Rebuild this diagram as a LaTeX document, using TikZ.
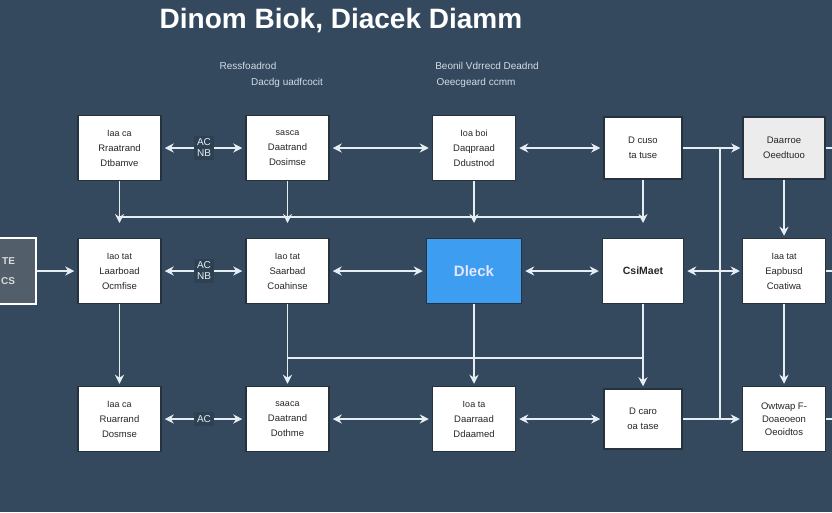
\documentclass[tikz,border=0pt]{standalone}
\usepackage{fontspec}
\setmainfont{Liberation Sans}
\usepackage{tikz}
\usetikzlibrary{arrows.meta}
\definecolor{bgslate}{HTML}{34495E}
\definecolor{boxedge}{HTML}{26333F}
\definecolor{wirecol}{HTML}{E6EEF4}
\definecolor{lblbg}{HTML}{2E4152}
\definecolor{keyblue}{HTML}{3D9DF0}
\definecolor{softgray}{HTML}{ECECEC}
\definecolor{subtext}{HTML}{D4DCE4}
\definecolor{sidegray}{HTML}{525E69}

\begin{document}
\begin{tikzpicture}[x=1pt,y=-1pt,>={Stealth[length=9pt,width=9pt]},
    blk/.style={rectangle,fill=white,draw=boxedge,line width=1.5pt,minimum width=83pt,minimum height=65pt,
                align=center,text=black!85,font=\fontsize{9.5}{15}\selectfont},
    lbl/.style={rectangle,fill=lblbg,inner sep=3pt,align=center,text=wirecol,font=\fontsize{10}{11}\selectfont},
    wire/.style={draw=wirecol,line width=1.1pt}]
     \clip (0,0) rectangle (832,512);                                                      % page size
     \fill [bgslate] (0,0) rectangle (832,512);                                            % background
     \node [text=white,font=\bfseries\fontsize{28}{28}\selectfont] (title) at (341,21) {Dinom Biok, Diacek Diamm};
     \node [text=subtext,font=\fontsize{10}{10}\selectfont] (sub1) at (248,66) {Ressfoadrod};
     \node [text=subtext,font=\fontsize{10}{10}\selectfont] (sub2) at (287,83) {Dacdg uadfcocit};
     \node [text=subtext,font=\fontsize{10}{10}\selectfont] (sub3) at (487,66) {Beonil Vdrrecd Deadnd};
     \node [text=subtext,font=\fontsize{10}{10}\selectfont] (sub4) at (476,83) {Oeecgeard ccmm};

     % top row
     \node [blk] (b11) at (119.5,148) {{\small Iaa ca}\\Rraatrand\\Dtbamve};
     \node [blk] (b12) at (287.5,148) {{\small sasca}\\Daatrand\\Dosimse};
     \node [blk] (b13) at (474,148) {{\small Ioa boi}\\Daqpraad\\Ddustnod};
     \node [blk,minimum width=78pt,minimum height=62pt] (b14) at (643,148) {D cuso\\ta tuse};
     \node [blk,fill=softgray,minimum width=82pt,minimum height=62pt] (b15) at (784,148) {Daarroe\\Oeedtuoo};
     \node [lbl] (ab1) at (204,148) {AC\\NB};

     % middle row
     \node [rectangle,fill=sidegray,draw=white,line width=2.5pt,minimum width=56pt,minimum height=66pt,
            align=right,text=white!80!bgslate,font=\bfseries\fontsize{10}{20}\selectfont] (s0) at (8,271) {TE\\CS};
     \node [blk] (b21) at (119.5,271) {{\small Iao tat}\\Laarboad\\Ocmfise};
     \node [blk] (b22) at (287.5,271) {{\small Iao tat}\\Saarbad\\Coahinse};
     \node [blk,fill=keyblue,minimum width=95pt,text=blue!10,font=\bfseries\fontsize{15}{15}\selectfont] (b23) at (474,271) {Dleck};
     \node [blk,minimum width=81pt,font=\bfseries\fontsize{10.5}{12}\selectfont] (b24) at (643,271) {CsiMaet};
     \node [blk] (b25) at (784,271) {{\small Iaa tat}\\Eapbusd\\Coatiwa};
     \node [lbl] (ab2) at (204,271) {AC\\NB};

     % bottom row
     \node [blk] (b31) at (119.5,419) {{\small Iaa ca}\\Ruarrand\\Dosmse};
     \node [blk] (b32) at (287.5,419) {{\small saaca}\\Daatrand\\Dothme};
     \node [blk] (b33) at (474,419) {{\small Ioa ta}\\Daarraad\\Ddaamed};
     \node [blk,minimum width=78pt,minimum height=60pt] (b34) at (643,419) {D caro\\oa tase};
     \node [blk,font=\fontsize{9.5}{13}\selectfont] (b35) at (784,419) {Owtwap F-\\Doaeoeon\\Oeoidtos};
     \node [lbl] (ab3) at (204,419) {AC};

     \coordinate (bus1) at (0,217);                                                       % upper bus
     \coordinate (tip1) at (0,223);
     \coordinate (bus2) at (0,358);                                                       % lower bus
     \coordinate (j1) at (720,148);
     \coordinate (j3) at (720,419);
     \coordinate (e1) at (832,148);
     \coordinate (e2) at (832,271);
     \coordinate (e3) at (832,419);

     % row links
     \draw [wire,->,shorten >=3pt] (ab1) -- (b11);
     \draw [wire,->,shorten >=3pt] (ab1) -- (b12);
     \draw [wire,<->,shorten <=3pt,shorten >=3pt] (b12) -- (b13);
     \draw [wire,<->,shorten <=3pt,shorten >=3pt] (b13) -- (b14);
     \draw [wire,->,shorten >=2pt] (b14) -- (b15);
     \draw [wire] (b15) -- (e1);
     \draw [wire,->,shorten >=3pt] (s0) -- (b21);
     \draw [wire,->,shorten >=3pt] (ab2) -- (b21);
     \draw [wire,->,shorten >=3pt] (ab2) -- (b22);
     \draw [wire,<->,shorten <=3pt,shorten >=3pt] (b22) -- (b23);
     \draw [wire,<->,shorten <=3pt,shorten >=3pt] (b23) -- (b24);
     \draw [wire,<->,shorten <=3pt,shorten >=2pt] (b24) -- (b25);
     \draw [wire] (b25) -- (e2);
     \draw [wire,->,shorten >=3pt] (ab3) -- (b31);
     \draw [wire,->,shorten >=3pt] (ab3) -- (b32);
     \draw [wire,<->,shorten <=3pt,shorten >=3pt] (b32) -- (b33);
     \draw [wire,<->,shorten <=3pt,shorten >=3pt] (b33) -- (b34);
     \draw [wire,->,shorten >=2pt] (b34) -- (b35);
     \draw [wire] (b35) -- (e3);
     \draw [wire] (j1) -- (j3);                                                           % side riser

     % drops
     \draw [wire] (b11 |- bus1) -- (b14 |- bus1);
     \draw [wire,->] (b11) -- (b11 |- tip1);
     \draw [wire,->] (b12) -- (b12 |- tip1);
     \draw [wire,->] (b13) -- (b13 |- tip1);
     \draw [wire,->] (b14) -- (b14 |- tip1);
     \draw [wire,->,shorten >=2pt] (b15) -- (b25);
     \draw [wire,->,shorten >=2pt] (b25) -- (b35);
     \draw [wire] (b22 |- bus2) -- (b24 |- bus2);
     \draw [wire,->,shorten >=2pt] (b21) -- (b31);
     \draw [wire,->,shorten >=2pt] (b22) -- (b32);
     \draw [wire,->,shorten >=2pt] (b23) -- (b33);
     \draw [wire,->,shorten >=2pt] (b24) -- (b34);
\end{tikzpicture}
\end{document}
